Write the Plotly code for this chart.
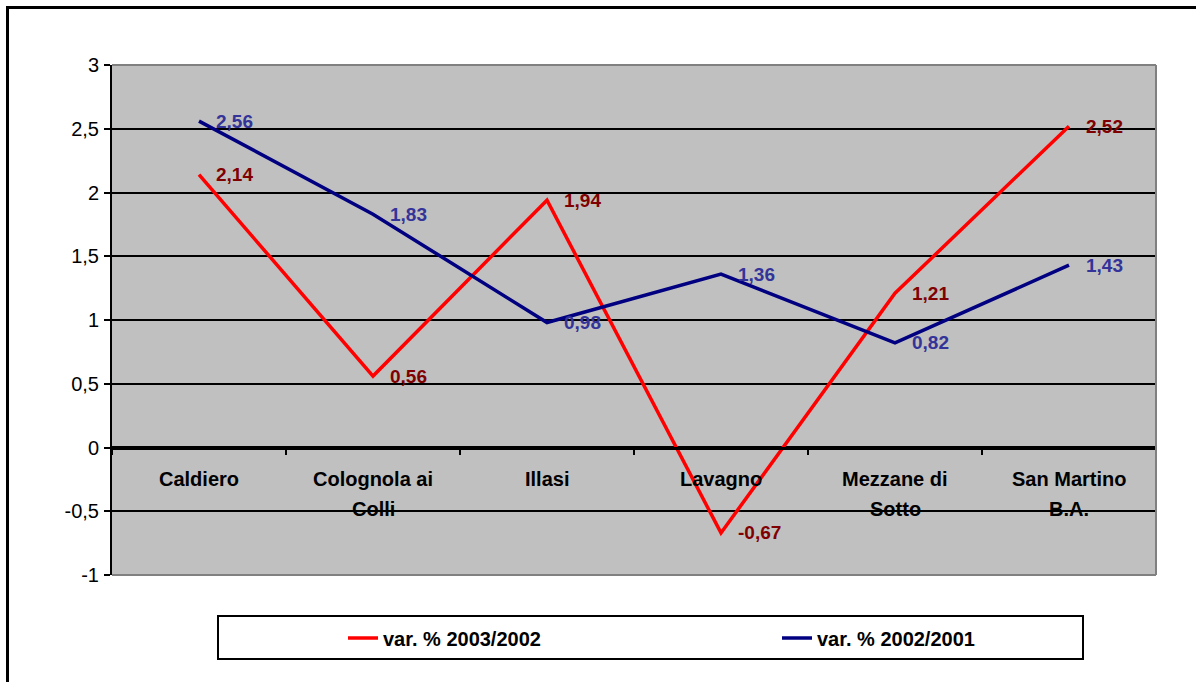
import plotly.graph_objects as go

categories = ["Caldiero", "Colognola ai Colli", "Illasi", "Lavagno", "Mezzane di Sotto", "San Martino B.A."]
label_line1 = ["Caldiero", "Colognola ai", "Illasi", "Lavagno", "Mezzane di", "San Martino"]
label_line2 = ["", "Colli", "", "", "Sotto", "B.A."]
var_2003_2002 = [2.14, 0.56, 1.94, -0.67, 1.21, 2.52]
var_2002_2001 = [2.56, 1.83, 0.98, 1.36, 0.82, 1.43]
series_names = ["var. % 2003/2002", "var. % 2002/2001"]
y_tickvals = [-1, -0.5, 0, 0.5, 1, 1.5, 2, 2.5, 3]
y_ticktext = ["-1", "-0,5", "0", "0,5", "1", "1,5", "2", "2,5", "3"]

FONT = "Liberation Sans, Arial, sans-serif"
W, H = 1196, 682
L, R, T, B = 112, 40, 65, 107
PW = W - L - R
PH = H - T - B


def px_x(p):
    return (p - L) / PW


def px_y(p):
    return (H - B - p) / PH


def fmt(v):
    return f"{v:.2f}".replace(".", ",")


fig = go.Figure()
fig.add_trace(go.Scatter(x=categories, y=var_2003_2002, mode="lines", name=series_names[0],
                         line=dict(color="#FF0000", width=3.5)))
fig.add_trace(go.Scatter(x=categories, y=var_2002_2001, mode="lines", name=series_names[1],
                         line=dict(color="#000080", width=3.5)))

annotations = []
for c, v in zip(categories, var_2003_2002):
    annotations.append(dict(x=c, y=v, xref="x", yref="y", text=fmt(v), showarrow=False,
                            xanchor="left", yanchor="middle", xshift=15,
                            font=dict(family=FONT, size=19, color="#800000", weight="bold")))
for c, v in zip(categories, var_2002_2001):
    annotations.append(dict(x=c, y=v, xref="x", yref="y", text=fmt(v), showarrow=False,
                            xanchor="left", yanchor="middle", xshift=15,
                            font=dict(family=FONT, size=19, color="#333399", weight="bold")))
for c, l1, l2 in zip(categories, label_line1, label_line2):
    annotations.append(dict(x=c, y=0, xref="x", yref="y", text=l1, showarrow=False,
                            xanchor="center", yanchor="middle", yshift=-31,
                            font=dict(family=FONT, size=20, color="black", weight="bold")))
    if l2:
        annotations.append(dict(x=c, y=0, xref="x", yref="y", text=l2, showarrow=False,
                                xanchor="center", yanchor="middle", yshift=-61,
                                font=dict(family=FONT, size=20, color="black", weight="bold")))

shapes = [
    # plot area border (top, right, bottom) in gray
    dict(type="line", xref="paper", yref="paper", x0=0, x1=1, y0=1, y1=1,
         line=dict(color="#808080", width=2), layer="above"),
    dict(type="line", xref="paper", yref="paper", x0=1, x1=1, y0=0, y1=1,
         line=dict(color="#808080", width=2), layer="above"),
    dict(type="line", xref="paper", yref="paper", x0=0, x1=1, y0=0, y1=0,
         line=dict(color="#808080", width=2), layer="above"),
    # legend box
    dict(type="rect", xref="paper", yref="paper", x0=px_x(218), x1=px_x(1083),
         y0=px_y(659), y1=px_y(616), line=dict(color="black", width=2),
         fillcolor="white", layer="below"),
    # outer chart border
    dict(type="rect", xref="paper", yref="paper", x0=px_x(7.5), x1=px_x(1215),
         y0=px_y(700), y1=px_y(7.5), line=dict(color="black", width=3), layer="above"),
]

fig.update_layout(
    width=W, height=H,
    margin=dict(l=L, r=R, t=T, b=B, pad=0, autoexpand=False),
    paper_bgcolor="white",
    plot_bgcolor="#C0C0C0",
    font=dict(family=FONT, size=19, color="black"),
    separators=",.",
    showlegend=True,
    legend=dict(orientation="h", xref="container", yref="container",
                x=343 / W, xanchor="left", y=(H - 638) / H, yanchor="middle",
                bgcolor="rgba(0,0,0,0)", borderwidth=0, entrywidth=389, entrywidthmode="pixels",
                font=dict(family=FONT, size=20, color="black", weight="bold")),
    xaxis=dict(type="category", anchor="free", position=0.25, showline=True, linecolor="black",
               linewidth=3, ticks="outside", tickson="boundaries", ticklen=5, tickwidth=2,
               tickcolor="black", showticklabels=False, showgrid=False, zeroline=False,
               range=[-0.5, 5.5], fixedrange=True),
    yaxis=dict(range=[-1, 3], tickvals=y_tickvals, ticktext=y_ticktext, showline=True,
               linecolor="black", linewidth=2, ticks="outside", ticklen=6, tickwidth=2,
               tickcolor="black", showgrid=True, gridcolor="black", gridwidth=1.5,
               zeroline=True, zerolinecolor="black", zerolinewidth=3,
               tickfont=dict(family=FONT, size=20, color="black"), ticklabelstandoff=1),
    shapes=shapes,
    annotations=annotations,
)

fig.write_html("out.html")
